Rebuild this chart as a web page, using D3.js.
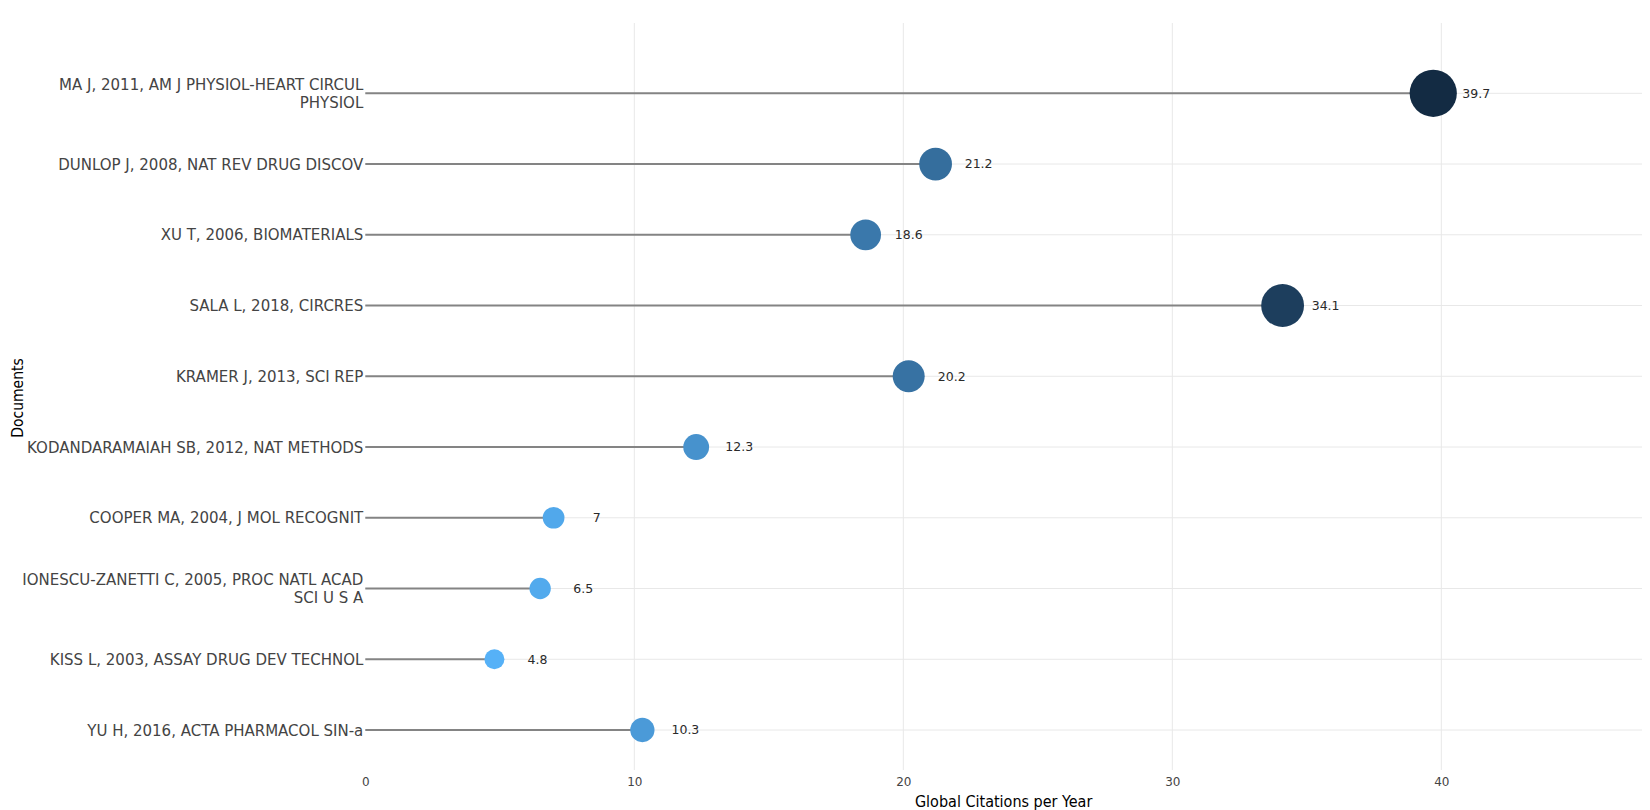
<!DOCTYPE html>
<html>
<head>
<meta charset="utf-8">
<script src="https://cdn.jsdelivr.net/npm/d3@7"></script>
<style>
  body { margin: 0; background: #fff; }
  svg { display: block; }
</style>
</head>
<body>
<div id="chart"></div>
<script>
// Documents, top to bottom ("\n" marks where the label wraps)
const documents = [
  "MA J, 2011, AM J PHYSIOL-HEART CIRCUL\nPHYSIOL",
  "DUNLOP J, 2008, NAT REV DRUG DISCOV",
  "XU T, 2006, BIOMATERIALS",
  "SALA L, 2018, CIRCRES",
  "KRAMER J, 2013, SCI REP",
  "KODANDARAMAIAH SB, 2012, NAT METHODS",
  "COOPER MA, 2004, J MOL RECOGNIT",
  "IONESCU-ZANETTI C, 2005, PROC NATL ACAD\nSCI U S A",
  "KISS L, 2003, ASSAY DRUG DEV TECHNOL",
  "YU H, 2016, ACTA PHARMACOL SIN-a"
];
const citationsPerYear = [39.7, 21.2, 18.6, 34.1, 20.2, 12.3, 7, 6.5, 4.8, 10.3];
const xTicks = [0, 10, 20, 30, 40];

const data = documents.map((d, i) => ({ doc: d, value: citationsPerYear[i] }));

const width = 1650;
const height = 810;
const plot = { left: 365.3, right: 1642, top: 23, bottom: 770 };

const svg = d3
  .select("#chart")
  .append("svg")
  .attr("width", width)
  .attr("height", height);

// Scales
const x = d3.scaleLinear().domain([0, 47.46]).range([plot.left, plot.right]);
const y = d3.scalePoint().domain(documents).range([93.3, 730]);

const extent = d3.extent(citationsPerYear);
const color = d3
  .scaleLinear()
  .domain(extent)
  .range(["#56B1F7", "#132B43"])
  .interpolate(d3.interpolateLab);
const radius = d3.scaleLinear().domain(extent).range([10, 23.6]);

// Grid lines
svg
  .append("g")
  .selectAll("line")
  .data(xTicks.filter((t) => t > 0))
  .join("line")
  .attr("x1", (d) => x(d))
  .attr("x2", (d) => x(d))
  .attr("y1", plot.top)
  .attr("y2", plot.bottom)
  .attr("stroke", "#e8e8e8")
  .attr("stroke-width", 1);

svg
  .append("g")
  .selectAll("line")
  .data(documents)
  .join("line")
  .attr("x1", plot.left)
  .attr("x2", plot.right)
  .attr("y1", (d) => y(d))
  .attr("y2", (d) => y(d))
  .attr("stroke", "#e8e8e8")
  .attr("stroke-width", 1);

// x axis (tick labels only)
const xAxis = svg
  .append("g")
  .attr("transform", `translate(0, ${plot.bottom})`)
  .call(d3.axisBottom(x).tickValues(xTicks).tickSize(0).tickPadding(7).tickFormat(d3.format("d")));
xAxis.select(".domain").remove();
xAxis
  .selectAll("text")
  .attr("font-family", "'DejaVu Sans', Verdana, sans-serif")
  .attr("font-size", 12)
  .attr("fill", "#444");

// y axis labels, right aligned, wrapped on "\n"
const yLabels = svg
  .append("g")
  .selectAll("text")
  .data(documents)
  .join("text")
  .attr("x", plot.left - 2)
  .attr("y", (d) => y(d))
  .attr("text-anchor", "end")
  .attr("font-family", "'DejaVu Sans', Verdana, sans-serif")
  .attr("font-size", 15)
  .attr("fill", "#444");

yLabels.each(function (d) {
  const lines = d.split("\n");
  const lineH = 18.4;
  d3.select(this)
    .selectAll("tspan")
    .data(lines)
    .join("tspan")
    .attr("x", plot.left - 2)
    .attr("y", (l, k) => y(d) + 5.5 + (k - (lines.length - 1) / 2) * lineH)
    .text((l) => l);
});

// Stems
svg
  .append("g")
  .selectAll("line")
  .data(data)
  .join("line")
  .attr("x1", x(0))
  .attr("x2", (d) => x(d.value))
  .attr("y1", (d) => y(d.doc))
  .attr("y2", (d) => y(d.doc))
  .attr("stroke", "#848484")
  .attr("stroke-width", 2);

// Dots
svg
  .append("g")
  .selectAll("circle")
  .data(data)
  .join("circle")
  .attr("cx", (d) => x(d.value))
  .attr("cy", (d) => y(d.doc))
  .attr("r", (d) => radius(d.value))
  .attr("fill", (d) => color(d.value));

// Value labels
svg
  .append("g")
  .selectAll("text")
  .data(data)
  .join("text")
  .attr("x", (d) => x(d.value + 1.6))
  .attr("y", (d) => y(d.doc) + 4.3)
  .attr("text-anchor", "middle")
  .attr("font-family", "'DejaVu Sans', Verdana, sans-serif")
  .attr("font-size", 12.5)
  .attr("fill", "#2a2a2a")
  .text((d) => d.value);

// Axis titles
svg
  .append("text")
  .attr("x", (plot.left + plot.right) / 2)
  .attr("y", 807)
  .attr("text-anchor", "middle")
  .attr("font-family", "'DejaVu Sans Condensed', 'DejaVu Sans', sans-serif")
  .attr("font-stretch", "condensed")
  .attr("font-size", 16)
  .attr("fill", "#000")
  .text("Global Citations per Year");

svg
  .append("text")
  .attr("transform", "translate(23, 398) rotate(-90)")
  .attr("text-anchor", "middle")
  .attr("font-family", "'DejaVu Sans Condensed', 'DejaVu Sans', sans-serif")
  .attr("font-stretch", "condensed")
  .attr("font-size", 15.5)
  .attr("fill", "#000")
  .text("Documents");
</script>
</body>
</html>
